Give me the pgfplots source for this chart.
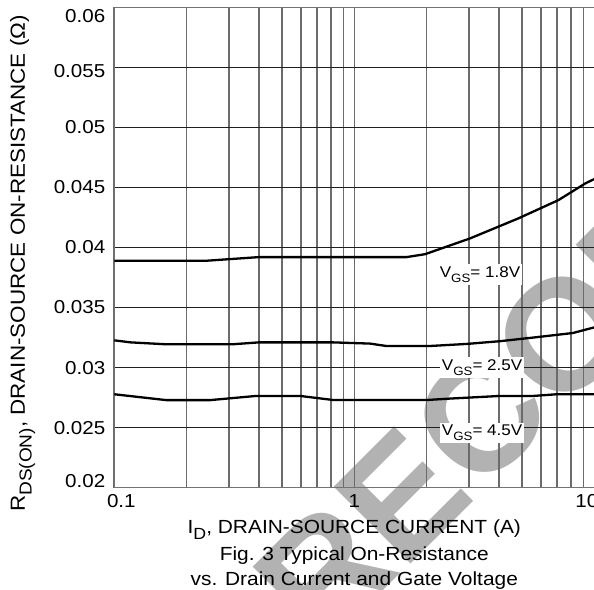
\documentclass[border=0pt]{standalone}
\usepackage{fontspec}
\setmainfont{Liberation Sans}[FakeStretch=1.1]
\newfontfamily\wmfont{Liberation Sans}
\usepackage{pgfplots}
\pgfplotsset{compat=1.18}
\newcommand{\sub}[2][0.78]{\raisebox{-0.33em}{\fontsize{#1em}{1em}\selectfont #2}}
\newcommand{\tf}{\fontsize{18.7bp}{22bp}\selectfont}
\newcommand{\tl}[1]{\hbox{\tf #1}}
\tikzset{wm/.style={rotate=45, inner sep=0pt, text=black!30, font=\wmfont\bfseries\fontsize{158bp}{163bp}\selectfont}}
\begin{document}
\fontsize{19bp}{23bp}\selectfont
\begin{tikzpicture}
\begin{axis}[
  set layers,
  scale only axis, width=480bp, height=480.4bp,
  xmode=log, log basis x=10,
  xmin=0.1, xmax=10, ymin=0.02, ymax=0.06,
  clip=false,
  xtick={0.1,1,10},
  xticklabels={\tl{\hspace*{14bp}0.1},\tl{1},\tl{10\hspace*{15bp}}},
  minor xtick={0.2,0.3,0.4,0.5,0.6,0.7,0.8,0.9,2,3,4,5,6,7,8,9},
  ytick={0.02,0.025,0.03,0.035,0.04,0.045,0.05,0.055,0.06},
  yticklabels={\tl{\raisebox{7bp}[\height][\depth]{0.02}},\tl{0.025},\tl{0.03},\tl{0.035},\tl{0.04},\tl{0.045},\tl{0.05},\tl{\raisebox{-4bp}[\height][\depth]{0.055}},\tl{\raisebox{-9bp}[\height][\depth]{0.06}}},
  grid=both,
  major x grid style={draw=black!58, line width=1.6bp},
  minor x grid style={draw=black!58, line width=1.6bp},
  major y grid style={draw=black!88, line width=1bp},
  axis line style={draw=black!55, line width=1.4bp},
  major tick length=0pt, minor tick length=0pt,
  tick label style={font=\tf},
  yticklabel style={xshift=-2.5bp},
]
\begin{pgfonlayer}{axis background}
\node[wm] at (axis description cs:0.4385,-0.1780) {R};
\node[wm] at (axis description cs:0.6002,-0.0164) {E};
\node[wm] at (axis description cs:0.7619,0.1447) {C};
\node[wm] at (axis description cs:0.9365,0.3195) {O};
\node[wm] at (axis description cs:1.1240,0.5069) {M};
\end{pgfonlayer}
\addplot[black, line width=2.3bp] coordinates {
(0.1,0.0389) (0.243,0.0389) (0.4,0.0392) (1.65,0.0392) (1.97,0.03944)
(3.03,0.04075) (4.82,0.04242) (7.08,0.04394) (9.2,0.04535) (10,0.0457)};
\addplot[black, line width=2.3bp] coordinates {
(0.1,0.03227) (0.117,0.0321) (0.165,0.03194) (0.31,0.03194) (0.4,0.0321)
(0.815,0.0321) (1.16,0.0320) (1.36,0.0318) (2.07,0.0318) (2.94,0.03197)
(4.05,0.0322) (5.56,0.0325) (8.14,0.03288) (10,0.03335)};
\addplot[black, line width=2.3bp] coordinates {
(0.1,0.02778) (0.165,0.02729) (0.25,0.02729) (0.39,0.02764) (0.594,0.02764)
(0.818,0.0273) (2.0,0.0273) (2.5,0.02742) (4.05,0.02764) (5.57,0.02764)
(6.97,0.02778) (10,0.02778)};
\node[fill=white, inner sep=2bp, anchor=base, font=\fontsize{15.5bp}{19bp}\selectfont] at (axis cs:3.34,0.03752) {V\sub{GS}= 1.8V};
\node[fill=white, inner sep=2bp, anchor=base, font=\fontsize{15.5bp}{19bp}\selectfont] at (axis cs:3.41,0.029775) {V\sub{GS}= 2.5V};
\node[fill=white, inner sep=2bp, anchor=base, font=\fontsize{15.5bp}{19bp}\selectfont] at (axis cs:3.41,0.02436) {V\sub{GS}= 4.5V};
\end{axis}
\node[rotate=90, anchor=base, font=\fontsize{20.4bp}{24bp}\selectfont] at (-89.3bp,224.2bp) {R\sub[0.85]{DS(ON)}, DRAIN-SOURCE ON-RESISTANCE (Ω)};
\node[anchor=base] at (240bp,-45.6bp) {I\sub[0.85]{D}, DRAIN-SOURCE CURRENT (A)};
\node[anchor=base] at (240bp,-72.3bp) {Fig. 3 Typical On-Resistance};
\node[anchor=base] at (240bp,-97.3bp) {vs. Drain Current and Gate Voltage};
\pgfresetboundingbox
\useasboundingbox (-114.3bp,-102.3bp) rectangle (479.7bp,487.7bp);
\end{tikzpicture}
\end{document}
